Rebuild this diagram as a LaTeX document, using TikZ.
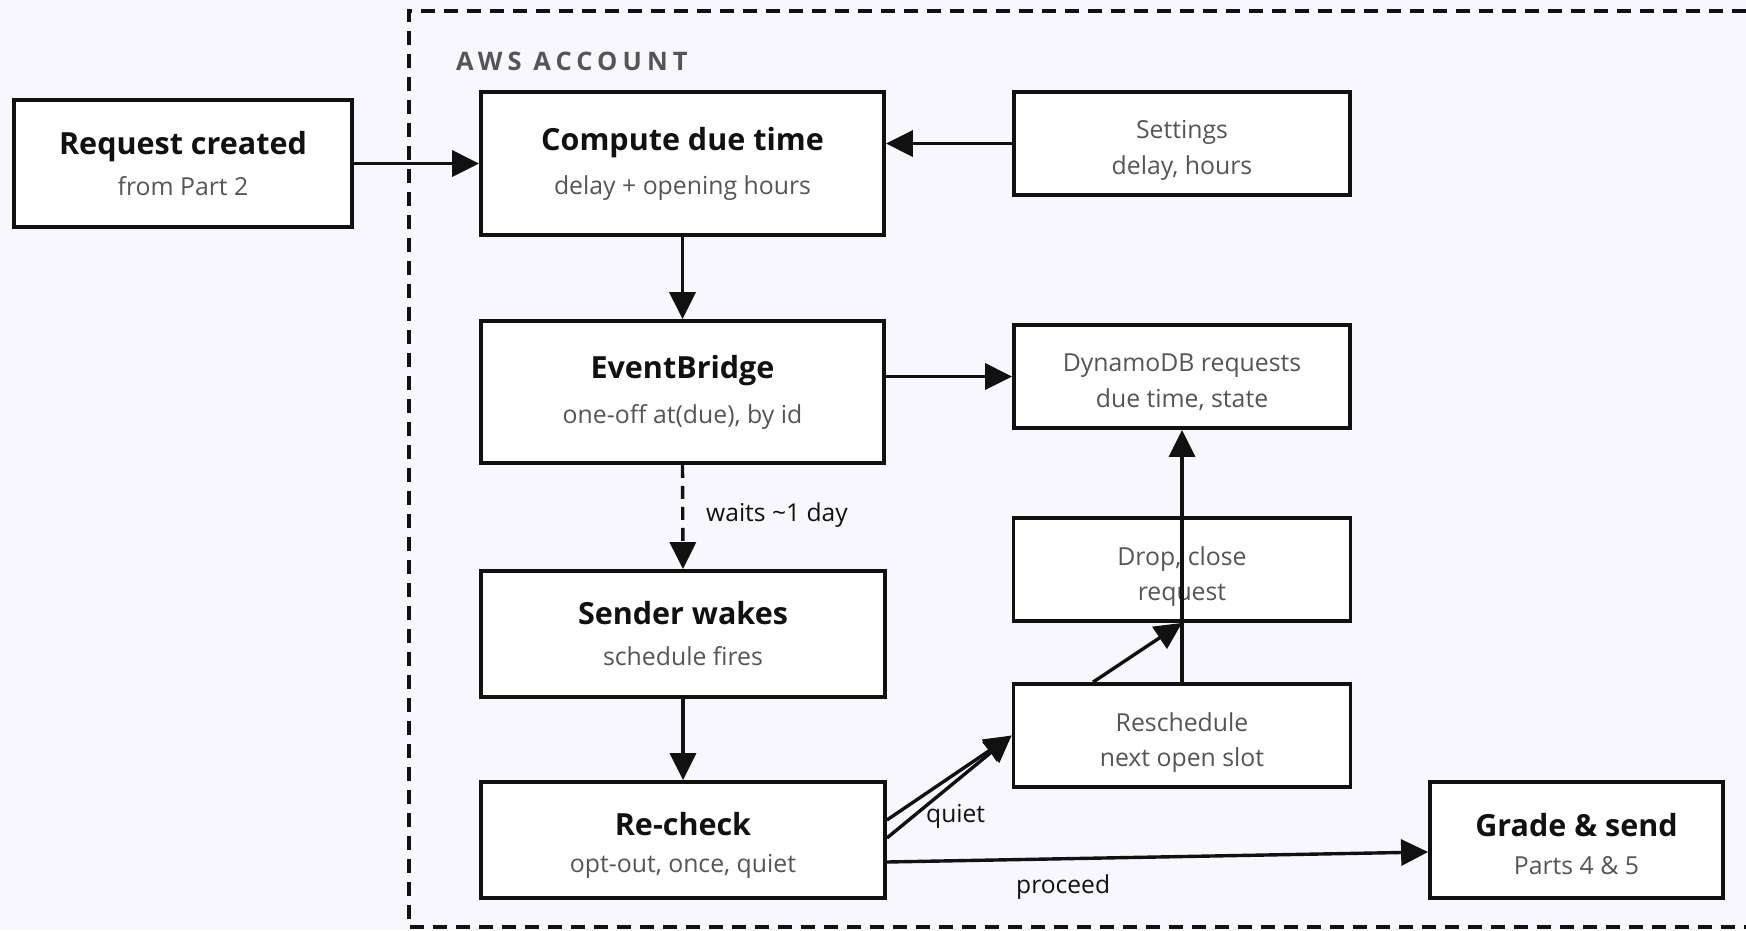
\documentclass[tikz,border=0pt]{standalone}
\usepackage{fontspec}
\setmainfont{Open Sans}
\usetikzlibrary{arrows.meta,calc}
\definecolor{bg}{HTML}{F8F7FD}
\definecolor{ink}{HTML}{111111}
\definecolor{subc}{HTML}{555555}
\definecolor{awsc}{HTML}{555555}
\newfontfamily\awsfont[LetterSpace=20]{Open Sans}
\begin{document}
\begin{tikzpicture}[x=1pt,y=-1pt,
  box/.style={draw=ink,line width=3.8pt,fill=white,inner sep=0pt},
  ttl/.style={font=\fontsize{30.5}{36}\selectfont\bfseries,text=ink,inner sep=0pt,anchor=base},
  sub/.style={font=\fontsize{24.8}{30}\selectfont,text=subc,inner sep=0pt,anchor=base},
  lbl/.style={font=\fontsize{24.6}{30}\selectfont,text=ink,inner sep=0pt,anchor=base west},
  conn/.style={draw=ink,line width=3.4pt,-{Triangle[length=27pt,width=26pt]}},
  container/.style={draw=ink,line width=3.1pt,dash pattern=on 14pt off 9pt},
]
\fill[bg] (0,0) rectangle (1746,930);
\useasboundingbox (0,0) rectangle (1746,930);

% AWS account container (right edge lies beyond the picture)
\draw[container] (1746,11) -- (409,11) -- (409,927) -- (1746,927);
\node[font=\awsfont\fontsize{25.5}{30}\selectfont\bfseries,text=awsc,inner sep=0pt,anchor=base west] (aws) at (456,70) {AWS ACCOUNT};

% boxes
\node[box,minimum width=338pt,minimum height=127pt] (req) at (183,163.5) {};
\node[ttl] (reqT) at (183,154) {Request created};
\node[sub] (reqS) at (183,195) {from Part 2};

\node[box,minimum width=403pt,minimum height=143pt] (comp) at (682.5,163.5) {};
\node[ttl] (compT) at (682.5,150) {Compute due time};
\node[sub] (compS) at (682.5,194) {delay + opening hours};

\node[box,minimum width=336pt,minimum height=103pt] (set) at (1182,143.5) {};
\node[sub] (setA) at (1182,138.3) {Settings};
\node[sub] (setB) at (1182,174) {delay, hours};

\node[box,minimum width=403pt,minimum height=142pt] (eb) at (682.5,392) {};
\node[ttl] (ebT) at (682.5,378) {EventBridge};
\node[sub] (ebS) at (682.5,423) {one-off at(due), by id};

\node[box,minimum width=336pt,minimum height=103pt] (ddb) at (1182,376.5) {};
\node[sub] (ddbA) at (1182,371.7) {DynamoDB requests};
\node[sub] (ddbB) at (1182,407) {due time, state};

\node[box,minimum width=337pt,minimum height=103pt] (drop) at (1182,569.5) {};
\node[sub] (dropA) at (1182,565) {Drop, close};
\node[sub] (dropB) at (1182,600) {request};

\node[box,minimum width=404pt,minimum height=126pt] (sender) at (683,634) {};
\node[ttl] (senderT) at (683,624) {Sender wakes};
\node[sub] (senderS) at (683,665) {schedule fires};

\node[box,minimum width=337pt,minimum height=103pt] (resch) at (1182,735.5) {};
\node[sub] (reschA) at (1182,731) {Reschedule};
\node[sub] (reschB) at (1182,766) {next open slot};

\node[box,minimum width=404pt,minimum height=116pt] (rech) at (683,840) {};
\node[ttl] (rechT) at (683,835.7) {Re-check};
\node[sub] (rechS) at (683,872.7) {opt-out, once, quiet};

\node[box,minimum width=293pt,minimum height=116pt] (grade) at (1576.5,840) {};
\node[ttl] (gradeT) at (1576.5,836) {Grade \& send};
\node[sub] (gradeS) at (1576.5,874) {Parts 4 \& 5};

% connectors
\draw[conn] (req.east) -- (req.east -| comp.west);
\draw[conn] (set.west) -- (set.west -| comp.east);
\draw[conn] (comp.south) -- (eb.north);
\draw[conn] (ddb.west -| eb.east) -- (ddb.west);
\draw[conn,dash pattern=on 13pt off 8pt] (eb.south) -- (sender.north);
\node[lbl] (waitL) at (706,521.7) {waits \textasciitilde1 day};
\draw[conn] (sender.south) -- (rech.north);
\draw[conn] ($(rech.east)+(0,-20)$) -- (resch.west);
\draw[conn] ($(rech.east)+(0,-2)$) -- (resch.west);
\node[lbl] (quietL) at (926,822) {quiet};
\draw[conn] ($(rech.east)+(0,22)$) -- ($(grade.west)+(0,12)$);
\node[lbl] (procL) at (1016,893) {proceed};
\draw[conn] ($(resch.north)+(-89,0)$) -- (drop.south);
\draw[conn] (resch.north) -- (ddb.south);
\end{tikzpicture}
\end{document}
